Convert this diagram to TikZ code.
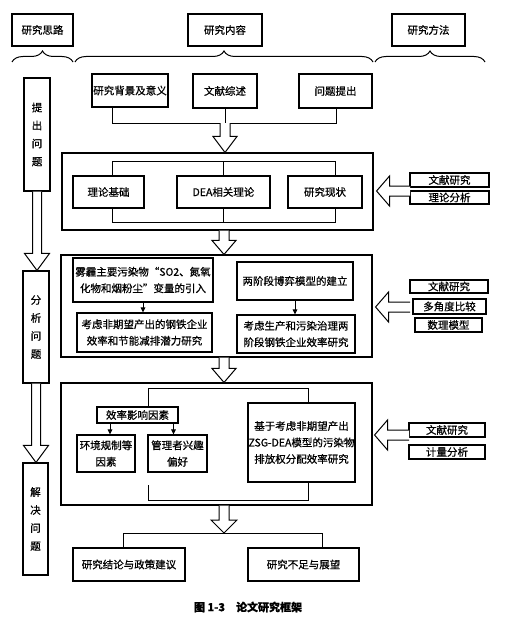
\documentclass[tikz,border=0pt]{standalone}
\usepackage{fontspec}
\setmainfont[FakeBold=0.6]{Noto Sans CJK SC}
\usetikzlibrary{calc,decorations.pathreplacing,arrows.meta}
\tikzset{
  box/.style={draw,line width=1.1pt,inner sep=0pt,align=center,font=\fontsize{10.5}{16.5}\selectfont},
  bigbox/.style={draw,line width=1.1pt,inner sep=0pt},
  vbox/.style={box,font=\fontsize{10.5}{18}\selectfont},
  hollow/.style={draw,line width=1pt,fill=white,line join=miter},
  link/.style={line width=1pt},
  smallarrow/.style={line width=1pt,-{Triangle[length=5pt,width=4.5pt]}},
  bracebar/.style={line width=1pt,decorate,decoration={brace,amplitude=11pt}}
}
\newcommand\bx[7][box]{\node[#1,minimum width={(#5-#3)*1pt},minimum height={(#6-#4)*1pt}] (#2) at ({(#3+#5)/2},{(#4+#6)/2}) {#7};}
% hollow down arrow: #1 start (x used), #2 tip (y used), #3 shaft half, #4 head half, #5 head length
\newcommand\hdown[5]{\draw[hollow] let \p1=(#1), \p2=(#2) in (\x1-#3pt,\y1) -- (\x1-#3pt,\y2+#5pt) -- (\x1-#4pt,\y2+#5pt) -- (\x1,\y2) -- (\x1+#4pt,\y2+#5pt) -- (\x1+#3pt,\y2+#5pt) -- (\x1+#3pt,\y1);}
% hollow left arrow: #1 tail (x,y), #2 tip (x used)
\newcommand\hleft[2]{\draw[hollow] let \p1=(#1), \p2=(#2) in (\x1,\y1+5pt) -- (\x2+13pt,\y1+5pt) -- (\x2+13pt,\y1+15pt) -- (\x2,\y1) -- (\x2+13pt,\y1-15pt) -- (\x2+13pt,\y1-5pt) -- (\x1,\y1-5pt);}
\begin{document}
\begin{tikzpicture}[x=1pt,y=-1pt]
\useasboundingbox[fill=white] (0,0) rectangle (510,618);
% headers
\bx{h1}{12}{14}{73}{46}{研究思路}
\bx{h2}{188}{14}{262}{46}{研究内容}
\bx{h3}{392}{14}{465}{46}{研究方法}
\coordinate (br1a) at (12,62); \coordinate (br1b) at (73,62);
\coordinate (br2a) at (75,62); \coordinate (br2b) at (373,62);
\coordinate (br3a) at (375,62); \coordinate (br3b) at (485,62);
\draw[bracebar] (br1a) -- (br1b);
\draw[bracebar] (br2a) -- (br2b);
\draw[bracebar] (br3a) -- (br3b);
% left column
\bx[vbox]{p1}{24}{78}{50}{191}{提\\出\\问\\题}
\bx[vbox]{p2}{23}{271}{49}{383}{分\\析\\问\\题}
\bx[vbox]{p3}{23}{463}{48}{575}{解\\决\\问\\题}
\hdown{p1.south}{p2.north}{4.5}{12.5}{17}
\hdown{p2.south}{p3.north}{4.5}{12.5}{17}
% row 1
\bx{bg}{92}{74}{168}{107}{研究背景及意义}
\bx{wx}{193}{74}{257}{108}{文献综述}
\bx{wt}{299}{74}{372}{108}{问题提出}
\coordinate (r1l) at (112,123); \coordinate (r1r) at (336,123); \coordinate (r1m) at (225,123);
\draw[link] (bg.south -| r1l) -- (r1l) -- (r1r) -- (wt.south -| r1r);
\draw[link] (wx.south) -- (r1m);
% box 2
\bx[bigbox]{B2}{62}{153}{373}{230}{}
\bx{ll}{73}{176}{144}{208}{理论基础}
\bx{dea}{177}{176}{270}{208}{DEA相关理论}
\bx{xz}{288}{176}{362}{208}{研究现状}
\coordinate (b2l) at (112,161); \coordinate (b2r) at (335,161);
\coordinate (b2lb) at (112,222); \coordinate (b2rb) at (335,222);
\draw[link] (ll.north -| b2l) -- (b2l) -- (b2r) -- (xz.north -| b2r);
\draw[link] (dea.north) -- (dea.north |- b2l);
\draw[link] (ll.south -| b2lb) -- (b2lb) -- (b2rb) -- (xz.south -| b2rb);
\draw[link] (dea.south) -- (dea.south |- b2lb);
\bx{m21}{410}{173}{489}{187}{文献研究}
\bx{m22}{410}{191}{489}{204}{理论分析}
\coordinate (t2) at (410,191);
\hleft{t2}{[xshift=3pt]B2.east}
% box 3
\bx[bigbox]{B3}{61}{255}{372}{357}{}
\bx{wm}{73}{258}{213}{302}{雾霾主要污染物“SO2、氮氧\\化物和烟粉尘”变量的引入}
\bx{kf}{77}{313}{212}{352}{考虑非期望产出的钢铁企业\\效率和节能减排潜力研究}
\bx{lj}{237}{262}{353}{300}{两阶段博弈模型的建立}
\bx{ks}{237}{315}{355}{353}{考虑生产和污染治理两\\阶段钢铁企业效率研究}
\draw[smallarrow] (wm.south) -- (wm.south |- kf.north);
\draw[smallarrow] (lj.south) -- (lj.south |- ks.north);
\bx{m31}{410}{280}{488}{293}{文献研究}
\bx{m32}{413}{299}{486}{314}{多角度比较}
\bx{m33}{415}{318}{482}{332}{数理模型}
\coordinate (t3) at (410,307);
\hleft{t3}{[xshift=3pt]B3.east}
% box 4
\bx[bigbox]{B4}{61}{383}{372}{505}{}
\bx{eff}{97}{407}{178}{423}{效率影响因素}
\bx{env}{77}{435}{135}{472}{环境规制等\\因素}
\bx{mgr}{148}{435}{207}{472}{管理者兴趣\\偏好}
\bx{zsg}{248}{403}{355}{482}{基于考虑非期望产出\\ZSG-DEA模型的污染物\\排放权分配效率研究}
\coordinate (L4) at (148,388); \coordinate (R4) at (308,388);
\draw[link] (eff.north -| L4) -- (L4) -- (R4) -- (zsg.north -| R4);
\coordinate (L4b) at (148,485); \coordinate (B4l) at (148,500); \coordinate (B4r) at (308,500);
\draw[link] (L4b) -- (B4l) -- (B4r) -- (zsg.south -| B4r);
\draw[smallarrow] ([xshift=4pt]env.north |- eff.south) -- ([xshift=4pt]env.north);
\draw[smallarrow] ([xshift=-4pt]mgr.north |- eff.south) -- ([xshift=-4pt]mgr.north);
\bx{m41}{409}{423}{485}{437}{文献研究}
\bx{m42}{409}{445}{485}{459}{计量分析}
\coordinate (t4) at (409,435);
\hleft{t4}{[xshift=2pt]B4.east}
% main column hollow arrows
\coordinate (ax) at (224,0);
\hdown{r1m}{r1m |- B2.north}{5}{12}{16}
\hdown{ax |- B2.south}{ax |- B3.north}{5}{12}{14}
\hdown{ax |- B3.south}{ax |- B4.north}{5}{12}{14}
\coordinate (bl) at (123,533); \coordinate (brr) at (322,533);
\hdown{ax |- B4.south}{ax |- bl}{5}{13}{13}
% conclusions
\bx{c1}{73}{548}{185}{581}{研究结论与政策建议}
\bx{c2}{248}{548}{359}{581}{研究不足与展望}
\draw[link] (c1.north -| bl) -- (bl) -- (brr) -- (c2.north -| brr);
% caption
\node[font=\bfseries\fontsize{11}{13}\selectfont] (cap) at (248,607) {图 1-3\quad 论文研究框架};
\end{tikzpicture}
\end{document}
